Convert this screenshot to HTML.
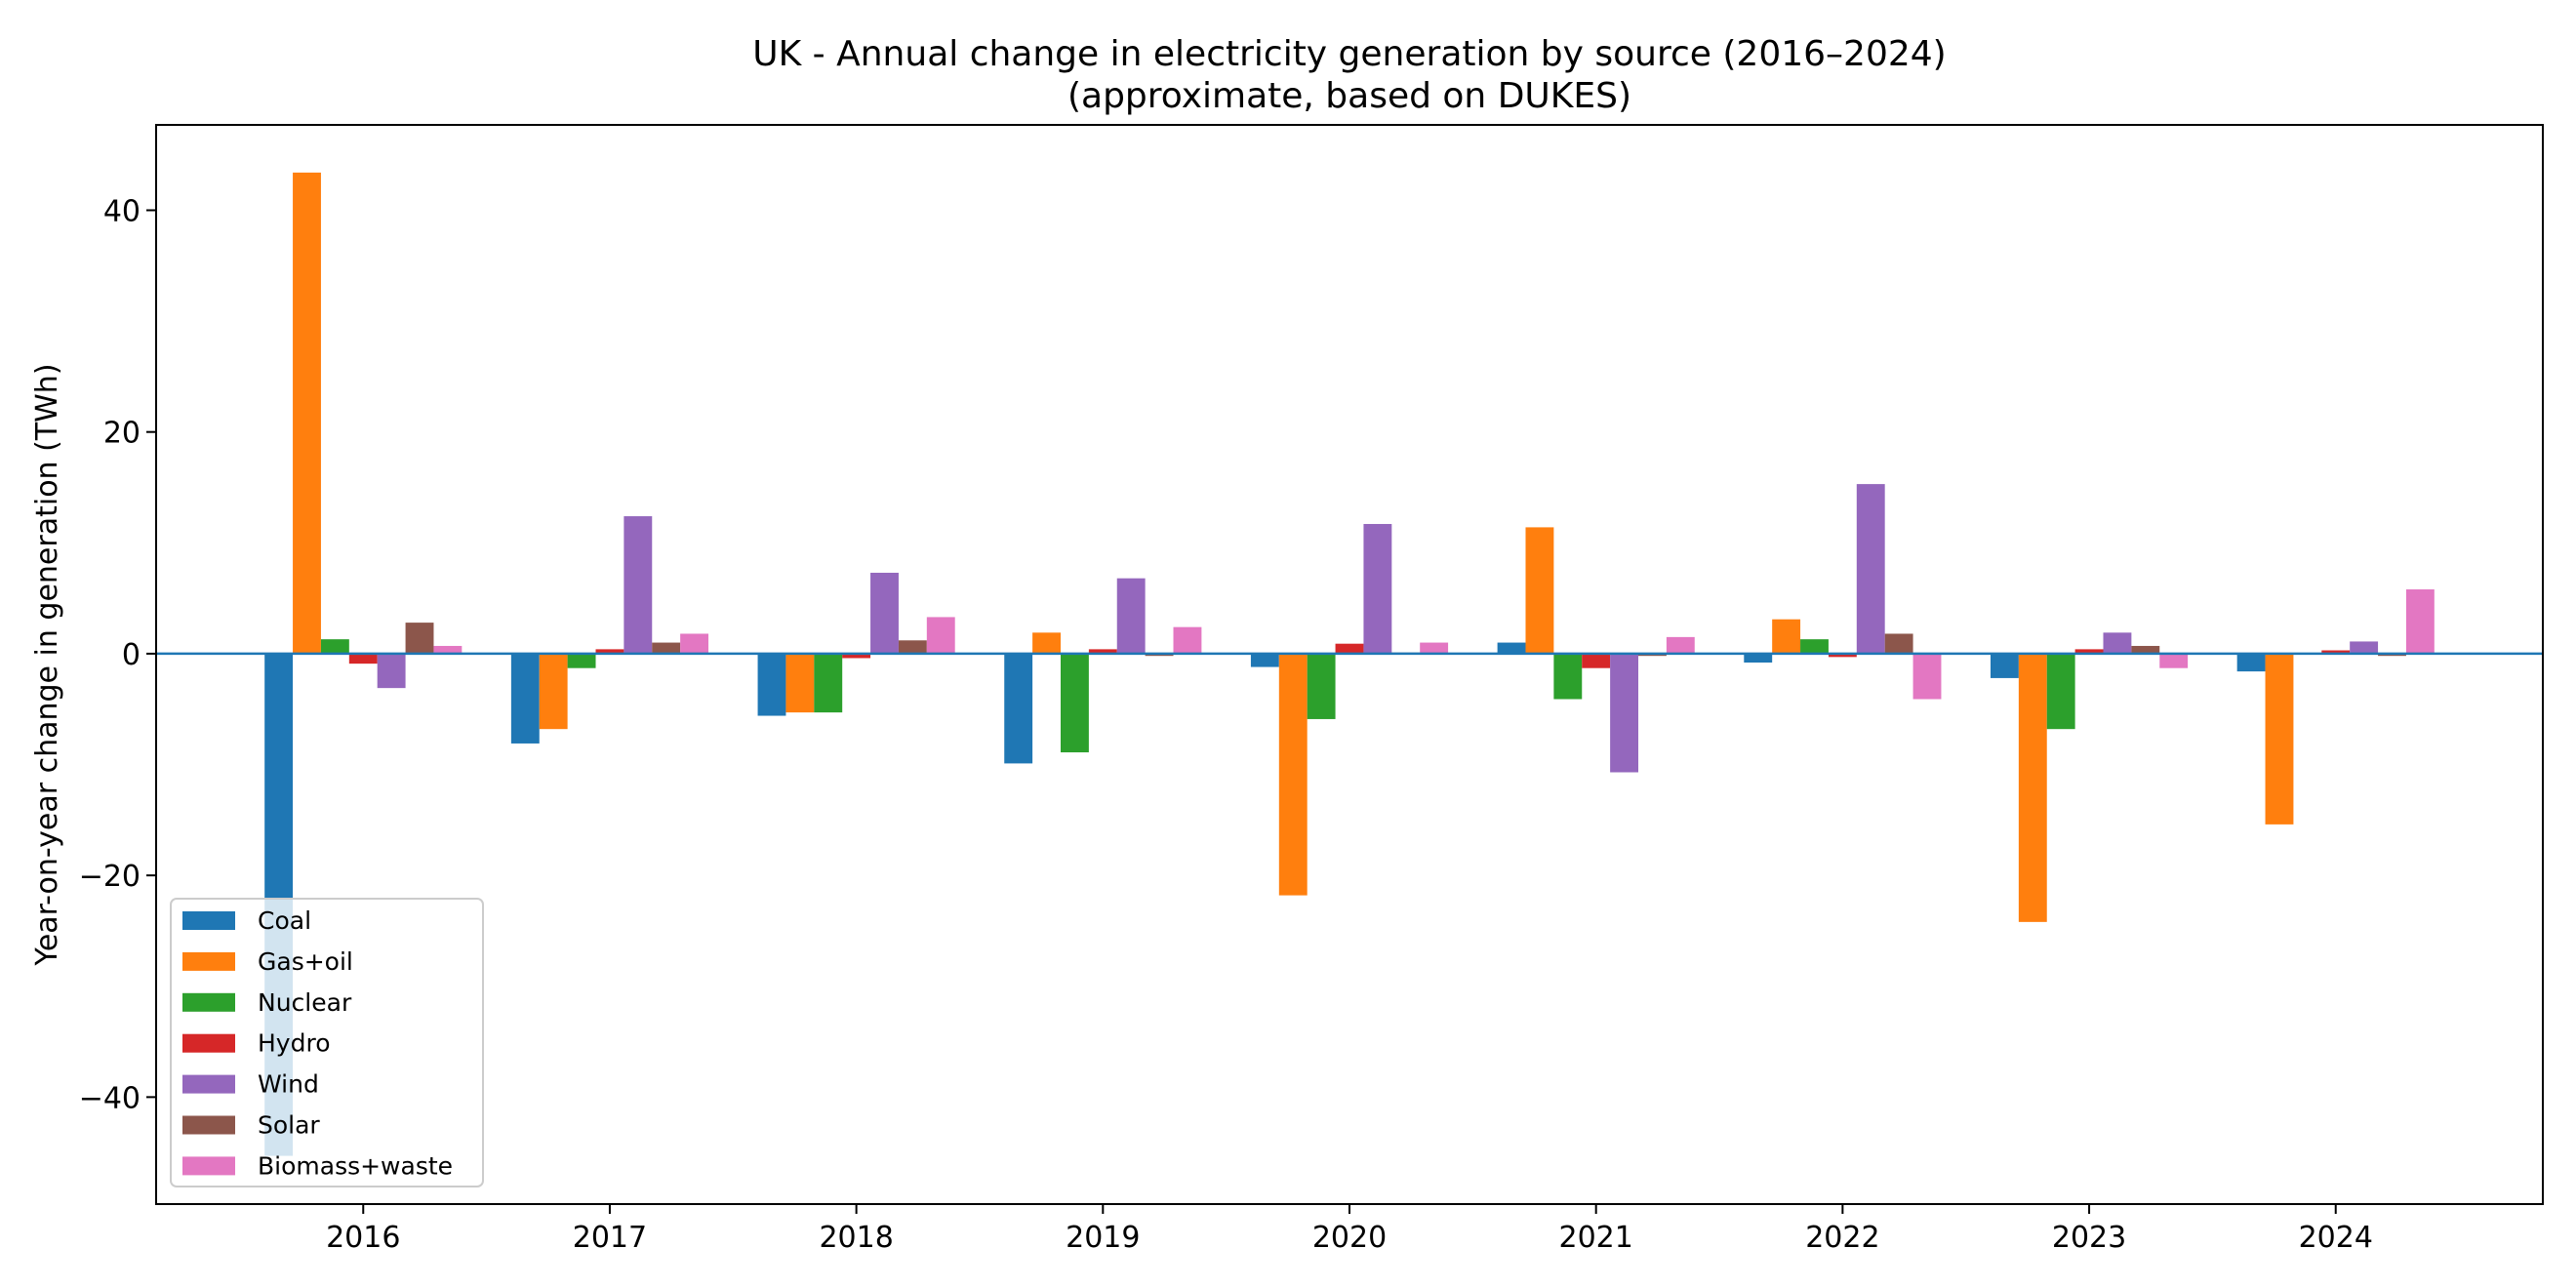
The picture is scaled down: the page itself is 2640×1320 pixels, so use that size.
<!DOCTYPE html>
<html><head><meta charset="utf-8"><style>
html,body{margin:0;padding:0;background:#fff;}
svg{display:block;font-family:"DejaVu Sans","Liberation Sans",sans-serif;}
</style></head><body>
<svg id="chart" width="2640" height="1320" viewBox="0 0 2640 1320" xmlns="http://www.w3.org/2000/svg">
<rect x="0" y="0" width="2640" height="1320" fill="#fff"/>
<text x="1383" y="67" font-size="36" text-anchor="middle">UK - Annual change in electricity generation by source (2016–2024)</text>
<text x="1383" y="110" font-size="36" text-anchor="middle">(approximate, based on DUKES)</text>
<text x="0" y="0" font-size="30" text-anchor="middle" transform="translate(58,681) rotate(-90)">Year-on-year change in generation (TWh)</text>
<g id="bars"></g>
<g id="axes"></g>
<g id="legend"></g>
</svg>
<script>
const years = ["2016","2017","2018","2019","2020","2021","2022","2023","2024"];
const seriesNames = ["Coal","Gas+oil","Nuclear","Hydro","Wind","Solar","Biomass+waste"];
const coal    = [-45.3,-8.1,-5.6,-9.9,-1.2,1.0,-0.8,-2.2,-1.6];
const gasOil  = [43.4,-6.8,-5.3,1.9,-21.8,11.4,3.1,-24.2,-15.4];
const nuclear = [1.3,-1.3,-5.3,-8.9,-5.9,-4.1,1.3,-6.8,0.0];
const hydro   = [-0.9,0.4,-0.4,0.4,0.9,-1.3,-0.3,0.4,0.3];
const wind    = [-3.1,12.4,7.3,6.8,11.7,-10.7,15.3,1.9,1.1];
const solar   = [2.8,1.0,1.2,-0.2,0.1,-0.2,1.8,0.7,-0.2];
const biomass = [0.7,1.8,3.3,2.4,1.0,1.5,-4.1,-1.3,5.8];
const yTicks = [-40,-20,0,20,40];

const series = [coal,gasOil,nuclear,hydro,wind,solar,biomass];
const colors = ["#1f77b4","#ff7f0e","#2ca02c","#d62728","#9467bd","#8c564b","#e377c2"];
const NS="http://www.w3.org/2000/svg";
const L=160,R=2606,T=128,B=1234;
const yMin=-49.65,yMax=47.7;
function yScale(v){return B-(v-yMin)/(yMax-yMin)*(B-T);}
const xMin=-0.84,xMax=8.84;
function xScale(i){return L+(i-xMin)/(xMax-xMin)*(R-L);}
const bwUnits=0.8/7;
const NS2=NS;
function mk(tag,attrs,parent){const e=document.createElementNS(NS2,tag);for(const k in attrs)e.setAttribute(k,attrs[k]);parent.appendChild(e);return e;}
const gb=document.getElementById('bars');
series.forEach((s,si)=>{
  s.forEach((v,i)=>{
    const x0=xScale(i+(si-3)*bwUnits-bwUnits/2), x1=xScale(i+(si-3)*bwUnits+bwUnits/2);
    const y0=yScale(0),y1=yScale(v);
    const r=mk('rect',{x:x0,y:Math.min(y0,y1),width:x1-x0,height:Math.max(Math.abs(y1-y0),0.01),fill:colors[si]},gb);
    
    
  });
});
const ga=document.getElementById('axes');
const zl=mk('line',{x1:L,x2:R,y1:yScale(0),y2:yScale(0),stroke:"#1f77b4","stroke-width":2.5},ga);


const frame=mk('rect',{x:L,y:T,width:R-L,height:B-T,fill:"none",stroke:"#000","stroke-width":2},ga);


yTicks.forEach(t=>{
  const y=yScale(t);
  mk('line',{x1:L-10,x2:L,y1:y,y2:y,stroke:"#000","stroke-width":2},ga);
  const tx=mk('text',{x:L-16,y:y+11,"font-size":30,"text-anchor":"end"},ga);
  tx.textContent=(t<0?"\u2212"+(-t):String(t));
  
  
});
years.forEach((yr,i)=>{
  const x=xScale(i);
  mk('line',{x1:x,x2:x,y1:B,y2:B+10,stroke:"#000","stroke-width":2},ga);
  const tx=mk('text',{x:x,y:B+44,"font-size":30,"text-anchor":"middle"},ga);
  tx.textContent=yr;
  
  
});
const gl=document.getElementById('legend');


mk('rect',{x:175,y:921,width:320,height:295,rx:6,fill:"#fff","fill-opacity":0.8,stroke:"#ccc","stroke-width":2},gl);
seriesNames.forEach((n,i)=>{
  const y=943+i*41.9;
  const g=mk('g',{},gl);
  
  
  mk('rect',{x:187,y:y-9,width:54,height:19,fill:colors[i]},g);
  const t=mk('text',{x:264,y:y+9,"font-size":25},g);
  t.textContent=n;
});
</script>
</body></html>
